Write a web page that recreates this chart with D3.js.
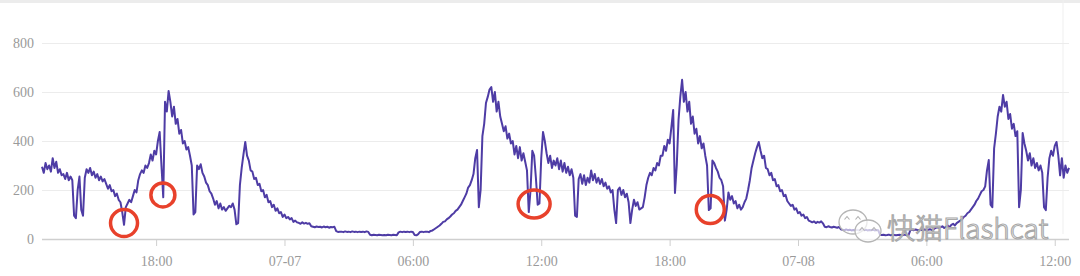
<!DOCTYPE html>
<html>
<head>
<meta charset="utf-8">
<script src="https://cdn.jsdelivr.net/npm/d3@7"></script>
<style>
  body { margin: 0; background: #fff; }
  svg { display: block; }
</style>
</head>
<body>
<div id="chart"></div>
<script>
const width = 1080;
const height = 276;
const margin = {top: 43, left: 42, bottom: 37, right: 11};

// series: one reading every 5 minutes, one row per hour
const startTime = new Date(2023, 6, 6, 12, 40);
const stepMinutes = 5;
const values = [
  295,270,310,285,300,275,330,290,315,270,285,260,
  265,245,270,240,255,240,95,85,200,255,120,95,
  250,285,270,290,260,275,250,265,240,255,235,245,
  225,205,220,195,200,175,185,160,150,110,58,130,
  145,160,150,175,200,190,240,265,280,270,300,290,
  310,345,320,360,345,400,437,300,170,560,520,604,
  560,500,540,470,490,430,445,390,400,365,375,340,
  300,100,110,300,285,305,270,255,230,220,195,185,
  165,140,155,125,145,120,130,115,125,135,130,145,
  120,60,65,220,290,345,396,340,320,280,275,245,
  250,220,225,195,200,170,180,150,155,130,140,115,
  125,105,110,90,100,85,90,80,85,70,75,68,
  66,62,68,63,66,62,64,52,50,48,51,49,
  50,47,51,48,50,46,49,48,50,32,29,30,
  30,28,31,29,30,28,31,29,30,28,30,29,
  30,28,31,29,17,15,17,16,15,17,16,15,
  16,15,17,16,15,17,16,15,27,30,28,30,
  29,30,28,30,29,16,15,20,29,30,28,30,
  30,28,33,35,40,45,50,55,62,70,72,80,
  85,92,100,105,115,120,130,140,155,170,185,210,
  220,240,265,330,363,130,200,420,470,555,580,610,
  620,560,600,520,560,500,470,440,460,410,430,390,
  400,345,380,330,375,320,350,315,280,110,200,360,
  340,250,140,145,330,437,400,350,310,340,290,320,
  300,330,285,320,275,310,270,295,260,285,250,95,
  90,245,265,225,260,220,250,230,280,240,265,230,
  250,225,245,215,230,205,215,190,200,120,65,200,
  210,180,200,170,185,150,65,120,160,135,150,120,
  125,130,170,220,250,270,260,290,280,310,300,340,
  340,380,360,405,390,457,527,188,300,485,580,650,
  560,600,520,560,470,500,430,450,390,420,370,390,
  340,300,118,125,320,310,290,275,250,240,215,75,
  120,190,160,175,145,155,125,140,120,130,150,165,
  200,240,290,320,350,375,396,360,330,340,290,285,
  260,270,240,245,215,220,195,200,175,180,155,145,
  135,140,120,125,105,110,95,100,85,90,75,72,
  68,72,65,70,67,72,64,50,48,52,49,47,
  50,48,46,49,40,38,35,39,36,38,35,37,
  36,38,35,37,39,36,38,35,37,36,38,35,
  37,36,18,16,17,15,16,18,15,17,16,15,
  16,17,15,16,18,15,16,35,38,36,39,37,
  36,38,37,39,36,38,40,37,39,45,48,46,
  48,52,45,50,55,48,58,62,55,65,70,75,
  80,90,95,105,110,120,130,140,155,165,180,195,
  200,215,280,322,140,130,370,430,500,540,520,588,
  540,560,490,510,450,470,420,440,130,200,433,390,
  360,320,350,300,330,290,310,280,300,270,130,118,
  250,330,360,340,380,396,340,260,330,250,300,270,290
];

const yTicks = [0, 200, 400, 600, 800];

// red circles marking the drops
const markTimes = [new Date(2023, 6, 6, 16, 30), new Date(2023, 6, 6, 18, 19), new Date(2023, 6, 7, 11, 40), new Date(2023, 6, 7, 19, 54)];
const markValues = [65, 180, 143, 120];
const markRadius = [13.5, 12, 16, 14];

const watermark = '快猫Flashcat';

const data = values.map((v, i) => ({t: new Date(+startTime + i * stepMinutes * 60000), v: v}));

const x = d3.scaleTime()
  .domain([startTime, new Date(+startTime + 48 * 3600000)])
  .range([margin.left, width - margin.right]);

const y = d3.scaleLinear()
  .domain([0, 800])
  .range([height - margin.bottom, margin.top]);

const svg = d3.select('#chart').append('svg')
  .attr('width', width)
  .attr('height', height);

svg.append('rect').attr('width', width).attr('height', height).attr('fill', '#fff');
svg.append('rect').attr('width', width).attr('height', 3).attr('fill', '#ececec');
svg.append('line')
  .attr('x1', 1063).attr('x2', 1063).attr('y1', 0).attr('y2', y(0) - 5)
  .attr('stroke', '#efefef');

const fmtTick = d => (d.getHours() === 0 ? d3.timeFormat('%m-%d')(d) : d3.timeFormat('%H:%M')(d));

const yAxis = g => g
  .attr('transform', `translate(${margin.left}, 0)`)
  .call(d3.axisLeft(y).tickValues(yTicks).tickSize(0).tickPadding(8))
  .call(g => g.select('.domain').remove())
  .call(g => g.selectAll('.tick line')
    .attr('x2', width - margin.right - margin.left)
    .attr('stroke', d => d === 0 ? '#cfcfcf' : '#ececec')
    .attr('stroke-width', d => d === 0 ? 1.5 : 1))
  .call(g => g.selectAll('text')
    .attr('fill', '#9a9a9a')
    .style('font-family', '"Liberation Serif", serif')
    .style('font-size', '14px'));

const xAxis = g => g
  .attr('transform', `translate(0, ${y(0)})`)
  .call(d3.axisBottom(x).ticks(d3.timeHour.every(6)).tickFormat(fmtTick).tickSize(7).tickPadding(10))
  .call(g => g.select('.domain').remove())
  .call(g => g.selectAll('.tick line').attr('stroke', '#cfcfcf'))
  .call(g => g.selectAll('text')
    .attr('fill', '#9a9a9a')
    .style('font-family', '"Liberation Serif", serif')
    .style('font-size', '14px'));

svg.append('g').call(yAxis);
svg.append('g').call(xAxis);

const line = d3.line()
  .x(d => x(d.t))
  .y(d => y(d.v));

svg.append('path')
  .datum(data)
  .attr('fill', 'none')
  .attr('stroke', '#4e3ca5')
  .attr('stroke-width', 2)
  .attr('stroke-linejoin', 'round')
  .attr('d', line);

svg.append('g')
  .selectAll('ellipse').data(markTimes).enter().append('ellipse')
  .attr('cx', d => x(d))
  .attr('cy', (d, i) => y(markValues[i]))
  .attr('rx', (d, i) => markRadius[i])
  .attr('ry', (d, i) => i === 2 ? markRadius[i] - 2 : markRadius[i])
  .attr('fill', 'none')
  .attr('stroke', '#e8412b')
  .attr('stroke-width', 3.5);

// watermark
const wm = svg.append('g');
wm.append('ellipse').attr('cx', 853).attr('cy', 222).attr('rx', 14).attr('ry', 12)
  .attr('fill', 'rgba(255,255,255,0.6)').attr('stroke', '#b5b5b5').attr('stroke-width', 1.3);
wm.append('ellipse').attr('cx', 868).attr('cy', 231).attr('rx', 13).attr('ry', 11)
  .attr('fill', 'rgba(255,255,255,0.7)').attr('stroke', '#b5b5b5').attr('stroke-width', 1.3);
[[847, 218], [858, 218], [862, 229], [874, 229]].forEach(p => {
  wm.append('path')
    .attr('d', `M${p[0] - 2.5},${p[1] + 1.5} L${p[0]},${p[1] - 1.5} L${p[0] + 2.5},${p[1] + 1.5}`)
    .attr('fill', 'none').attr('stroke', '#b0b0b0').attr('stroke-width', 1.1);
});
wm.append('text')
  .attr('x', 887).attr('y', 239)
  .attr('fill', 'rgba(255,255,255,0.6)')
  .attr('stroke', '#a8a8a8')
  .attr('stroke-width', 1.1)
  .style('font-family', '"Noto Sans CJK SC", "Noto Sans", sans-serif')
  .style('font-size', '28px')
  .style('font-weight', 300)
  .text(watermark);
</script>
</body>
</html>
